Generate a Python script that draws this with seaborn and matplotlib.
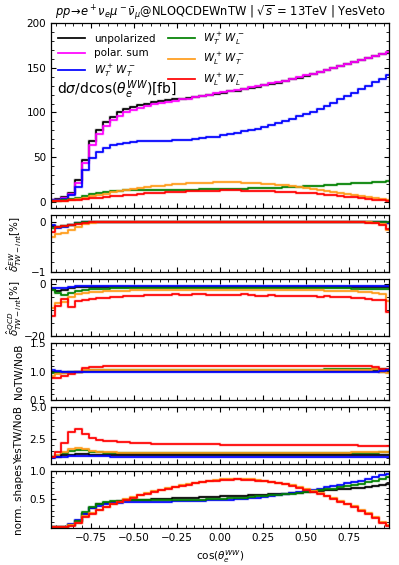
import numpy as np
import matplotlib
matplotlib.use("Agg")
import matplotlib.pyplot as plt
import seaborn as sns
from matplotlib.ticker import MultipleLocator

# --- bins: 50 bins in cos(theta), plotted at bin centres ---
centers = np.linspace(-0.98, 0.98, 50)

# --- main panel: dsigma/dcos [fb] ---
main_unpol = [2, 2.5, 5, 10, 24, 47, 68, 80, 89, 95, 100, 104, 106.5, 108.5, 110, 111.5, 112.5, 113.5, 114.5, 115.5,
              116.5, 117.5, 118.5, 120, 121, 122, 123.5, 124.5, 126, 127.5, 129, 130.5, 132, 133.5, 135, 137, 139, 141,
              143, 145, 147, 149.5, 151.5, 154, 156, 158.5, 161, 163, 165, 167]
main_polsum = [1.5, 2, 4, 9, 21, 43, 64, 76, 85, 91, 96, 100, 103, 105.5, 107.5, 109, 110.5, 112, 113, 114.5,
               115.5, 117, 118.5, 120, 121.5, 122.5, 124, 125, 126.5, 128, 129.5, 131, 132.5, 134, 135.5, 137.5, 139.5,
               141.5, 143.5, 145.5, 147.5, 150, 152, 154.5, 156.5, 159, 161.5, 163.5, 165.5, 168]
main_TT = [1.5, 2, 3, 7, 17, 36, 49, 56, 60.5, 63.5, 65, 66, 67, 67.5, 68, 68, 68.5, 68.5, 69, 69, 69.5, 70, 71, 72,
           73, 74.5, 76, 77.5, 79, 80.5, 82, 84, 86, 88, 90.5, 93, 95.5, 98, 101, 104, 107.5, 111, 114.5, 118, 122,
           126, 130, 134, 138, 142]
main_TL = [0.5, 1, 1.5, 3, 4.5, 6.5, 8.5, 10, 11, 11.8, 12.3, 12.6, 12.9, 13.1, 13.2, 13.3, 13.4, 13.4, 13.5, 13.5,
           13.6, 13.6, 13.7, 13.8, 13.9, 14.0, 14.2, 14.4, 14.6, 14.8, 15.0, 15.3, 15.6, 15.9, 16.2, 16.5, 16.9, 17.3,
           17.7, 18.1, 18.5, 19.0, 19.5, 20.0, 20.5, 21.0, 21.5, 22.0, 22.5, 23.0]
main_LT = [0.3, 0.5, 1, 1.5, 3, 4.5, 6, 7.5, 9, 10.5, 12, 13.3, 14.5, 15.5, 16.5, 17.3, 18, 18.7, 19.3, 19.9, 20.4,
           20.8, 21.2, 21.5, 21.7, 21.8, 21.8, 21.7, 21.5, 21.2, 20.8, 20.3, 19.7, 19.0, 18.2, 17.4, 16.5, 15.5, 14.5,
           13.4, 12.3, 11.1, 9.9, 8.7, 7.5, 6.3, 5.1, 3.9, 2.7, 1.5]
main_LL = [0.3, 0.6, 1.0, 1.5, 2.0, 2.8, 3.6, 4.4, 5.2, 6.0, 6.7, 7.4, 8.0, 8.6, 9.2, 9.7, 10.2, 10.6, 11.0, 11.4,
           11.7, 12.0, 12.2, 12.4, 12.5, 12.6, 12.6, 12.6, 12.5, 12.4, 12.2, 12.0, 11.7, 11.4, 11.0, 10.6, 10.2, 9.7,
           9.2, 8.6, 8.0, 7.3, 6.6, 5.8, 5.0, 4.2, 3.3, 2.4, 1.5, 0.6]

# --- EW TW-int correction [%] ---
ew_unpol = [-0.08, -0.10, -0.08, -0.06, -0.02, -0.01] + [-0.01] * 42 + [-0.01, -0.02]
ew_TT = [-0.07, -0.12, -0.10, -0.07, -0.03, -0.01] + [-0.005] * 42 + [-0.01, -0.02]
ew_TL = [-0.12, -0.11, -0.08, -0.06, -0.03, -0.01] + [-0.01] * 40 + [-0.005, 0.0, 0.0, 0.0]
ew_LT = [-0.30, -0.25, -0.22, -0.17, -0.10, -0.05, -0.02] + [-0.01] * 40 + [-0.02, -0.04, -0.17]
ew_LL = [-0.20, -0.11, -0.08, -0.07, -0.04, -0.02] + [-0.01] * 20 + [-0.015] * 20 + [-0.02, -0.02, -0.07, -0.14]

# --- QCD TW-int correction [%] ---
qcd_unpol = [-1.6, -2.4, -2.2, -1.5, -1.1, -1.0] + [-0.9] * 40 + [-0.9, -1.0, -1.0, -1.0]
qcd_TT = [-1.3, -1.5, -1.2, -0.9, -0.7, -0.6, -0.5, -0.5] + [-0.4] * 38 + [-0.4, -0.5, -0.5, -0.5]
qcd_TL = [-2.0, -3.3, -4.0, -3.4, -2.6, -2.1, -1.9, -1.7, -1.6, -1.5, -1.4, -1.4] + [-1.3] * 28 + \
         [-1.4, -1.4, -1.5, -1.5, -1.6, -1.6, -1.7, -1.8, -1.9, -1.9]
qcd_LT = [-9.0, -7.2, -6.8, -4.8, -3.6, -3.3, -3.1, -2.9, -2.7, -2.6, -2.5, -2.4, -2.3] + [-2.2] * 25 + \
         [-2.3, -2.3, -2.4, -2.4, -2.5, -2.6, -2.7, -2.8, -2.9, -3.2, -3.6, -6.4]
qcd_LL = [-12.3, -8.4, -5.6, -8.6, -6.5, -6.0, -5.6, -5.3, -5.1, -4.9, -4.7, -4.5, -4.4, -4.3, -4.2, -4.1, -4.0,
          -4.0, -3.8, -3.9, -3.9, -3.7, -3.8, -3.9, -4.0, -4.0, -4.0, -4.1, -3.8, -4.1, -4.3, -4.3, -4.2, -4.4, -4.3,
          -4.6, -4.5, -4.4, -4.6, -4.8, -4.5, -4.8, -5.0, -4.9, -5.2, -5.4, -5.6, -6.0, -6.2, -10.8]

# --- NoTW / NoB ---
notw_unpol = [0.99, 0.99, 1.0, 1.0, 1.0] + [1.005] * 43 + [1.0, 1.0]
notw_TT = [1.02, 1.01, 1.0, 1.0, 1.0] + [1.0] * 43 + [1.01, 1.02]
notw_TL = [0.97, 0.97, 0.98, 0.99, 1.0, 1.01, 1.02, 1.02, 1.02] + [1.03] * 21 + [1.035] * 10 + \
          [1.04, 1.04, 1.04, 1.045, 1.045, 1.05, 1.05, 1.05, 1.04, 1.02]
notw_LT = [0.93, 0.95, 0.97, 0.98, 1.0, 1.02, 1.03] + [1.03] * 30 + [1.035] * 10 + [1.04, 1.0, 0.97]
notw_LL = [0.89, 0.89, 0.93, 0.96, 1.0, 1.06, 1.08, 1.08] + [1.09] * 28 + [1.095] * 10 + [1.09, 1.08, 1.05, 1.04]

# --- YesTW / NoB ---
yes_unpol = [1.02, 1.08, 1.18, 1.24, 1.27, 1.25, 1.22, 1.21, 1.20] + [1.19] * 35 + [1.2, 1.2, 1.2, 1.21, 1.21, 1.22]
yes_TT = [1.0, 1.03, 1.08, 1.12, 1.15, 1.14, 1.12, 1.11, 1.10] + [1.08] * 25 + [1.06] * 16
yes_TL = [1.02, 1.13, 1.38, 1.55, 1.62, 1.58, 1.47, 1.42, 1.39, 1.37] + [1.35] * 30 + \
         [1.36, 1.36, 1.37, 1.37, 1.38, 1.38, 1.39, 1.39, 1.40, 1.40]
yes_LT = [1.03, 1.17, 1.45, 1.65, 1.75, 1.66, 1.52, 1.46, 1.42, 1.40, 1.39, 1.38] + [1.37] * 28 + \
         [1.38, 1.38, 1.39, 1.39, 1.40, 1.40, 1.41, 1.41, 1.42, 1.42]
yes_LL = [1.05, 1.45, 2.15, 3.05, 3.25, 2.88, 2.52, 2.40, 2.33, 2.27, 2.23, 2.20, 2.17, 2.15, 2.13, 2.11, 2.10,
          2.09, 2.08, 2.07, 2.06, 2.05, 2.05, 2.04, 2.04, 2.03, 2.03, 2.02, 2.02, 2.02, 2.01, 2.01, 2.01, 2.00, 2.00,
          2.00, 1.99, 1.99, 1.99, 1.98, 1.98, 1.97, 1.97, 1.96, 1.96, 1.95, 1.95, 1.94, 1.94, 1.93]

# --- normalised shapes ---
shape_unpol = [0.01, 0.01, 0.02, 0.05, 0.12, 0.25, 0.35, 0.41, 0.44, 0.46, 0.47, 0.48, 0.485, 0.49, 0.495, 0.50,
               0.505, 0.51, 0.515, 0.52, 0.525, 0.53, 0.535, 0.54, 0.545, 0.55, 0.555, 0.56, 0.565, 0.57, 0.575,
               0.58, 0.59, 0.595, 0.60, 0.61, 0.615, 0.625, 0.635, 0.645, 0.655, 0.665, 0.675, 0.685, 0.695, 0.705,
               0.72, 0.735, 0.75, 0.765]
shape_TT = [0.01, 0.01, 0.02, 0.06, 0.13, 0.24, 0.34, 0.39, 0.42, 0.43, 0.44, 0.445, 0.45, 0.45, 0.455, 0.455,
            0.46, 0.46, 0.465, 0.465, 0.47, 0.47, 0.475, 0.48, 0.485, 0.49, 0.495, 0.50, 0.51, 0.52, 0.53, 0.545,
            0.56, 0.575, 0.59, 0.61, 0.63, 0.65, 0.67, 0.69, 0.71, 0.73, 0.76, 0.78, 0.80, 0.83, 0.86, 0.89, 0.92, 0.95]
shape_TL = [0.01, 0.01, 0.02, 0.05, 0.12, 0.27, 0.37, 0.42, 0.45, 0.465, 0.475, 0.48, 0.485, 0.49, 0.49, 0.49,
            0.49, 0.49, 0.49, 0.49, 0.49, 0.49, 0.495, 0.50, 0.505, 0.51, 0.515, 0.52, 0.53, 0.54, 0.55, 0.56, 0.57,
            0.58, 0.59, 0.60, 0.615, 0.63, 0.645, 0.66, 0.675, 0.69, 0.71, 0.73, 0.75, 0.77, 0.80, 0.83, 0.86, 0.90]
shape_LT = [0.01, 0.01, 0.02, 0.04, 0.09, 0.20, 0.26, 0.32, 0.37, 0.42, 0.46, 0.50, 0.54, 0.58, 0.61, 0.64, 0.67,
            0.70, 0.725, 0.75, 0.77, 0.79, 0.81, 0.825, 0.84, 0.85, 0.855, 0.86, 0.855, 0.85, 0.84, 0.825, 0.81,
            0.795, 0.775, 0.75, 0.715, 0.675, 0.645, 0.605, 0.565, 0.525, 0.475, 0.425, 0.375, 0.315, 0.255, 0.185,
            0.105, 0.045]
shape_LL = [0.01, 0.01, 0.015, 0.03, 0.08, 0.19, 0.25, 0.31, 0.36, 0.41, 0.45, 0.49, 0.53, 0.57, 0.60, 0.63, 0.66,
            0.69, 0.715, 0.74, 0.76, 0.78, 0.80, 0.815, 0.83, 0.84, 0.845, 0.85, 0.845, 0.84, 0.83, 0.815, 0.80,
            0.785, 0.765, 0.74, 0.70, 0.66, 0.63, 0.59, 0.55, 0.51, 0.46, 0.41, 0.36, 0.30, 0.24, 0.17, 0.09, 0.03]

colors = {"unpol": "black", "polsum": "magenta", "TT": "blue", "TL": "green", "LT": "#ff9c1a", "LL": "red"}
labels = {"unpol": "unpolarized", "polsum": "polar. sum", "TT": r"$W^+_T\,W^-_T$",
          "TL": r"$W^+_T\,W^-_L$", "LT": r"$W^+_L\,W^-_T$", "LL": r"$W^+_L\,W^-_L$"}

plt.rcParams.update({
    "font.family": ["DejaVu Sans"],
    "font.size": 7.5,
    "xtick.direction": "in", "ytick.direction": "in",
    "xtick.top": True, "ytick.right": True,
    "xtick.major.size": 3.5, "ytick.major.size": 3.5,
    "xtick.minor.size": 2, "ytick.minor.size": 2,
    "xtick.labelsize": 7.5, "ytick.labelsize": 7.5,
    "axes.linewidth": 0.9,
})


def step(ax, vals, key, label=None):
    # faint halo under each curve (error band look), then the line itself
    sns.lineplot(x=centers, y=vals, ax=ax, color=colors[key], lw=2.6, alpha=0.15,
                 drawstyle="steps-mid", legend=False, label="_nolegend_")
    sns.lineplot(x=centers, y=vals, ax=ax, color=colors[key], lw=1.25,
                 drawstyle="steps-mid", label=label if label else "_nolegend_")


fig = plt.figure(figsize=(3.99, 5.65), dpi=100)
gs = fig.add_gridspec(6, 1, height_ratios=[3.26, 1, 1, 1, 1, 1], hspace=0.09,
                      left=0.128, right=0.975, top=0.959, bottom=0.066)
axes = [fig.add_subplot(gs[i]) for i in range(6)]
for a in axes[1:]:
    a.sharex(axes[0])

# main panel
ax = axes[0]
for key, vals in [("unpol", main_unpol), ("polsum", main_polsum), ("TT", main_TT),
                  ("TL", main_TL), ("LT", main_LT), ("LL", main_LL)]:
    step(ax, vals, key, labels[key])
ax.set_ylim(-7.5, 200)
ax.yaxis.set_major_locator(MultipleLocator(50))
ax.yaxis.set_minor_locator(MultipleLocator(10))
ax.legend(ncol=2, loc="upper left", frameon=False, fontsize=7.5, handlelength=2.6,
          handletextpad=0.8, columnspacing=1.2, labelspacing=0.45, borderaxespad=0.3)
ax.text(0.018, 0.64, r"d$\sigma$/dcos($\theta_e^{WW}$)[fb]", transform=ax.transAxes,
        fontsize=10, va="center", ha="left")
ax.set_title(r"$pp\!\to\! e^+\nu_e\mu^-\bar{\nu}_\mu$@NLOQCDEWnTW | $\sqrt{s}$ = 13TeV | YesVeto",
             fontsize=8.3, pad=3)

# ratio panels
panels = [
    (axes[1], [("unpol", ew_unpol), ("TT", ew_TT), ("TL", ew_TL), ("LT", ew_LT), ("LL", ew_LL)],
     (-1, 0.12), 1, 0.2, r"$\hat{\delta}^{EW}_{TW-int}$[%]"),
    (axes[2], [("unpol", qcd_unpol), ("TT", qcd_TT), ("TL", qcd_TL), ("LT", qcd_LT), ("LL", qcd_LL)],
     (-20, 2), 20, 5, r"$\hat{\delta}^{QCD}_{TW-int}$[%]"),
    (axes[3], [("unpol", notw_unpol), ("TL", notw_TL), ("LT", notw_LT), ("LL", notw_LL), ("TT", notw_TT)],
     (0.5, 1.5), 0.5, 0.1, "NoTW/NoB"),
    (axes[4], [("TL", yes_TL), ("LT", yes_LT), ("unpol", yes_unpol), ("TT", yes_TT), ("LL", yes_LL)],
     (0.5, 5.0), 2.5, 0.5, "YesTW/NoB"),
    (axes[5], [("unpol", shape_unpol), ("TT", shape_TT), ("TL", shape_TL), ("LT", shape_LT), ("LL", shape_LL)],
     (0.0, 1.0), 0.5, 0.1, "norm. shapes"),
]
for a, series, ylim, major, minor, ylab in panels:
    for key, vals in series:
        step(a, vals, key)
    leg = a.get_legend()
    if leg:
        leg.remove()
    a.set_ylim(*ylim)
    a.yaxis.set_major_locator(MultipleLocator(major))
    a.yaxis.set_minor_locator(MultipleLocator(minor))
    a.set_ylabel(ylab, fontsize=7.5)
    a.yaxis.set_label_coords(-0.08, 0.5)

axes[5].set_yticks([0.5, 1.0])
axes[5].yaxis.set_minor_locator(MultipleLocator(0.1))

for a in axes:
    a.set_xlim(-0.98, 0.98)
    a.xaxis.set_major_locator(MultipleLocator(0.25))
    a.xaxis.set_minor_locator(MultipleLocator(0.05))
    a.tick_params(which="both", top=True, right=True)
    if a is not axes[-1]:
        a.tick_params(labelbottom=False)
        a.set_xlabel("")
axes[0].set_ylabel("")
axes[-1].set_xlabel(r"cos($\theta_e^{WW}$)", fontsize=7.5)

plt.savefig("out.png", dpi=100)
plt.close()
